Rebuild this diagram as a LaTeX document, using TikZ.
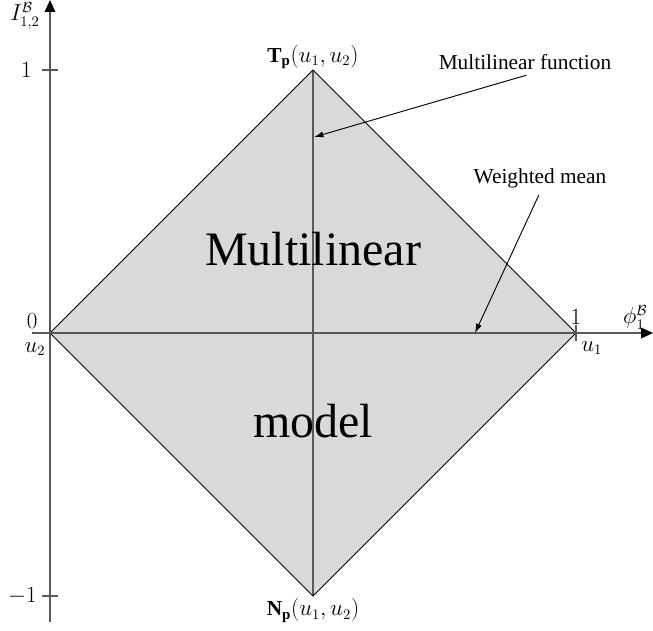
\documentclass[tikz,border=0pt]{standalone}
\usepackage{amsmath, amssymb}
\usepackage{fontspec}
\setmainfont{Liberation Serif}
\usepackage{tikz}
\usetikzlibrary{arrows.meta}
\definecolor{axisgray}{HTML}{595959}
\definecolor{fillgray}{HTML}{D9D9D9}

\begin{document}
\begin{tikzpicture}[
    x=197.25pt, y=197.25pt,
    font=\fontsize{16}{19}\selectfont,
    axis/.style={draw=axisgray, line width=1.1pt, -{Triangle[length=9pt, width=8pt, color=black]}},
    tick/.style={draw=axisgray, line width=0.8pt},
    note/.style={-{Latex[length=7pt, width=4.5pt]}, line width=0.7pt, shorten <=2pt},
    big/.style={font=\fontsize{36}{43}\selectfont}
]
    \useasboundingbox (-0.1901, -1.1293) rectangle (2.2928, 1.2662);

    % Coordinates
    \coordinate (orig)   at (0, 0);
    \coordinate (top)    at (1, 1);
    \coordinate (right)  at (2, 0);
    \coordinate (bot)    at (1, -1);

    \coordinate (xstart) at (-0.068, 0);
    \coordinate (xend)   at (2.2928, 0);
    \coordinate (ystart) at (0, -1.099);
    \coordinate (yend)   at (0, 1.2662);

    \coordinate (mf_end) at (1.004, 0.745);
    \coordinate (wm_end) at (1.616, 0);

    % Diamond region
    \fill[fillgray] (orig) -- (top) -- (right) -- (bot) -- cycle;
    \draw[axisgray, line width=0.8pt] (top) -- (bot);
    \draw[black, line width=0.75pt] (orig) -- (top) -- (right) -- (bot) -- cycle;

    % Axes and ticks
    \draw[axis] (xstart) -- (xend);
    \draw[axis] (ystart) -- (yend);
    \draw[tick] (-0.03, 1) -- (0.03, 1);
    \draw[tick] (-0.03, -1) -- (0.03, -1);
    \draw[tick] (2, -0.03) -- (2, 0.03);

    % Axis labels
    \node (ylab) at (-0.095, 1.205) {$I^{\mathcal{B}}_{1,2}$};
    \node (xlab) at (2.225, 0.06) {$\phi^{\mathcal{B}}_{1}$};
    \node (yone)  at (-0.09, 1) {$1$};
    \node (ymone) at (-0.105, -1) {$-1$};
    \node (zero)  at (-0.068, 0.045) {$0$};
    \node (utwo)  at (-0.057, -0.06) {$u_2$};
    \node (xone)  at (2.0, 0.062) {$1$};
    \node (uone)  at (2.06, -0.058) {$u_1$};

    % Vertex labels
    \node (tp) at (1, 1.05) {$\mathbf{T}_{\mathbf{p}}(u_1, u_2)$};
    \node (np) at (1, -1.055) {$\mathbf{N}_{\mathbf{p}}(u_1, u_2)$};

    % Region text
    \node[big] (multi) at (1, 0.319) {Multilinear};
    \node[big] (model) at (1, -0.335) {model};

    % Annotations
    \node (mf) at (1.806, 1.03) {Multilinear function};
    \node (wm) at (1.863, 0.589) {Weighted mean};
    \draw[note] ([xshift=3pt]mf.south) -- (mf_end);
    \draw[note] (wm.south) -- (wm_end);

\end{tikzpicture}
\end{document}
